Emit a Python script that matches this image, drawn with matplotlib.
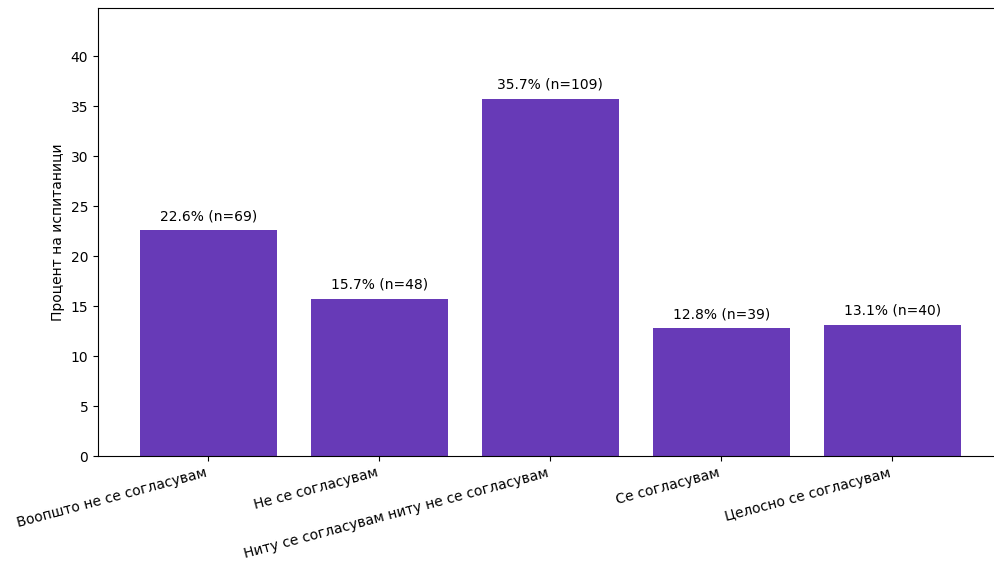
import matplotlib
matplotlib.use("Agg")
import matplotlib.pyplot as plt

categories = [
    "Воопшто не се согласувам",
    "Не се согласувам",
    "Ниту се согласувам ниту не се согласувам",
    "Се согласувам",
    "Целосно се согласувам",
]
percent = [22.6, 15.7, 35.7, 12.8, 13.1]
counts = [69, 48, 109, 39, 40]

fig = plt.figure(figsize=(9.94, 5.63), dpi=100)
# right edge sits just past the canvas, as in the cropped original
ax = fig.add_axes([98 / 994, 1 - 456 / 563, 899 / 994, 448 / 563])

x = range(len(categories))
ax.bar(x, percent, width=0.8, color="#673AB7")
for i, (p, n) in enumerate(zip(percent, counts)):
    ax.text(i, p + 0.7, f"{p}% (n={n})", ha="center", va="bottom", fontsize=10)

ax.set_xlim(-0.645, 4.612)
ax.set_ylim(0, 44.8)
ax.set_xticks(list(x))
ax.set_xticklabels(categories, rotation=15, ha="right", fontsize=10)
ax.set_yticks(range(0, 45, 5))
ax.tick_params(axis="y", labelsize=10)
ax.set_ylabel("Процент на испитаници", fontsize=10)

fig.savefig("out.png", dpi=100)
